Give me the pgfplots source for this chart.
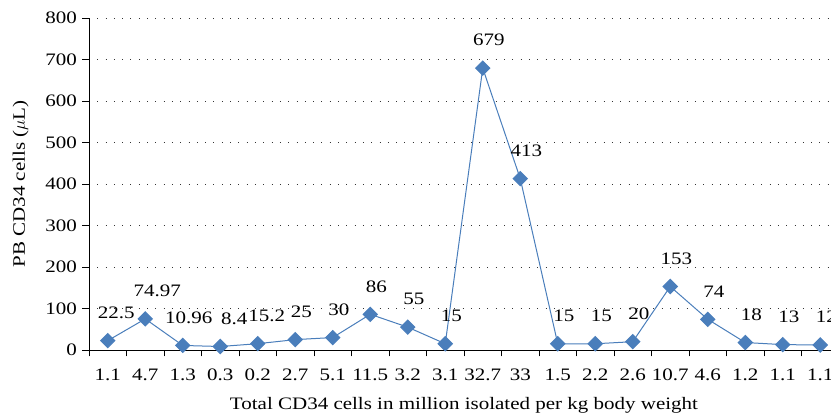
\documentclass[border=0pt]{standalone}
\usepackage{fontspec}
\setmainfont[FakeStretch=1.2]{Liberation Serif}
\usepackage{pgfplots}
\pgfplotsset{compat=1.18}
\definecolor{exblue}{HTML}{4A7EBB}

\begin{document}
\begin{tikzpicture}
\begin{axis}[
    scale only axis,
    width=750pt, height=332pt,
    xmin=-0.5, xmax=19.5,
    ymin=0, ymax=800,
    axis x line=bottom, axis y line=left,
    axis line style={-, black, line width=0.8pt},
    tick align=outside,
    major tick length=6.5pt,
    tick style={black, line width=0.8pt},
    xtick={-0.5,0.5,...,19.5},
    x tick label as interval,
    xticklabels={1.1,4.7,1.3,0.3,0.2,2.7,5.1,11.5,3.2,3.1,32.7,33,1.5,2.2,2.6,10.7,4.6,1.2,1.1,1.1},
    xticklabel style={yshift=-9pt},
    ytick={0,100,...,800},
    yticklabel style={xshift=-2pt},
    ymajorgrids,
    grid style={black!80, line width=0.9pt, dash pattern=on 0.9pt off 7.4pt},
    font=\fontsize{17.5}{20}\selectfont,
    /pgf/number format/assume math mode=true,
    xlabel={Total CD34 cells in million isolated per kg body weight},
    xlabel style={yshift=-10pt},
    ylabel={PB CD34 cells ($\mu$L)},
    ylabel style={yshift=10pt},
    clip=false,
    nodes near coords,
    point meta=explicit symbolic,
    every node near coord/.append style={anchor=center, yshift=28pt, xshift=6pt, text=black, font=\fontsize{17.5}{20}\selectfont},
]
\addplot[exblue, line width=1pt, mark=square*, mark size=5pt, mark options={rotate=45, fill=exblue, draw=exblue}]
coordinates {
(0,22.5) [\hspace{5pt}22.5]
(1,74.97) [\hspace{12pt}74.97]
(2,10.96) [10.96]
(3,8.4) [\hspace{16pt}8.4]
(4,15.2) [\hspace{6pt}15.2]
(5,25) [25]
(6,30) [30]
(7,86) [86]
(8,55) [55]
(9,15) [15]
(10,679) [679]
(11,413) [413]
(12,15) [15]
(13,15) [15]
(14,20) [20]
(15,153) [153]
(16,74) [74]
(17,18) [18]
(18,13) [13]
(19,12) [12]
};
\coordinate (O) at (axis cs:-0.5,0);
\end{axis}
\pgfresetboundingbox
\path[use as bounding box] ([shift={(-89pt,-67pt)}]O) rectangle ([shift={(742pt,350pt)}]O);
\end{tikzpicture}
\end{document}
